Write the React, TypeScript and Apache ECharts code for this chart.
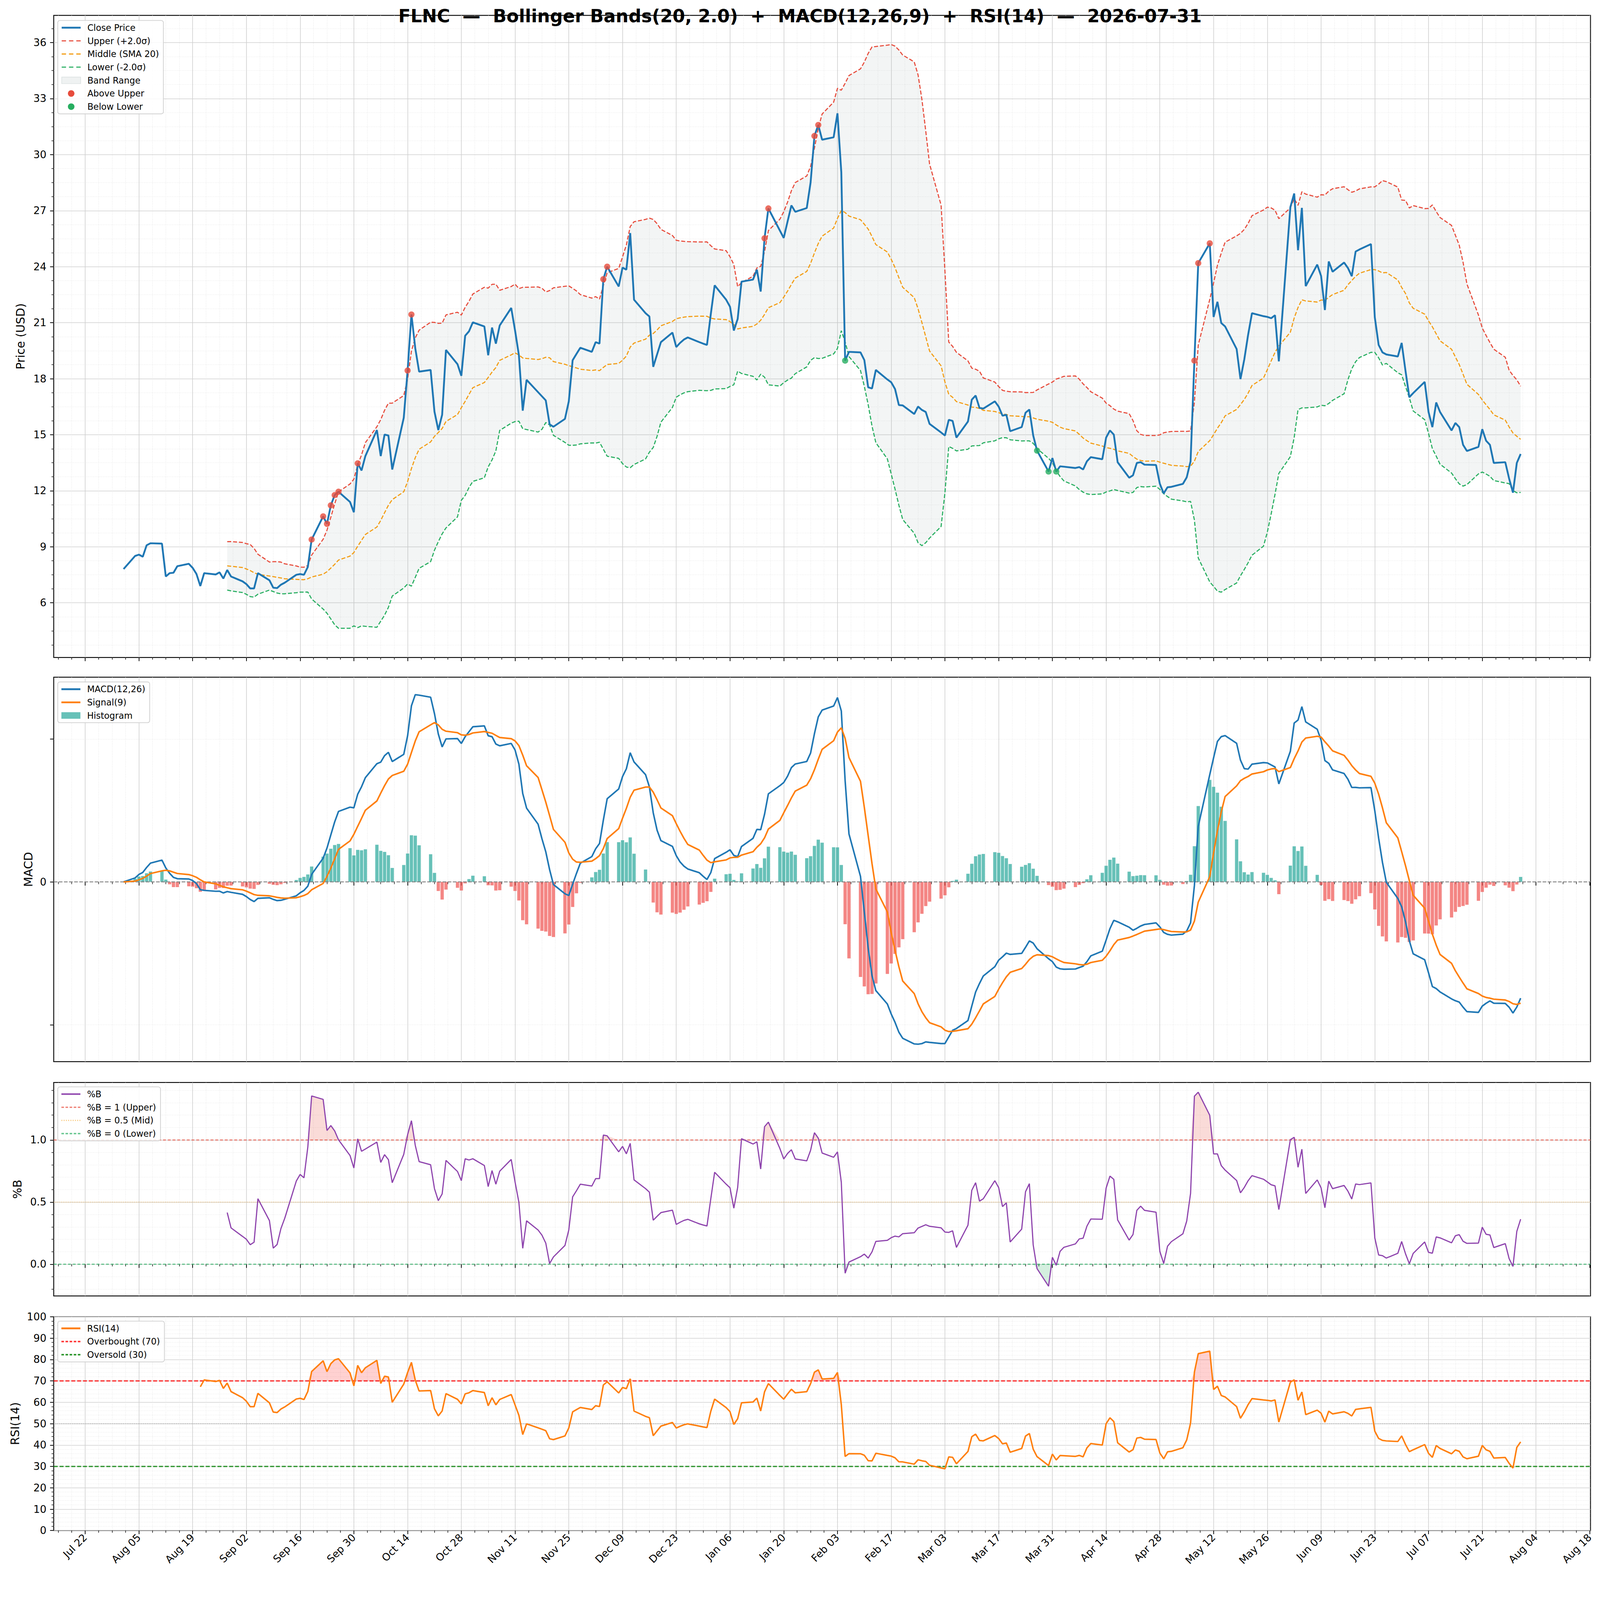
import React, { useEffect, useRef } from "react";
import * as echarts from "echarts";

// ---------------- data ----------------
const TITLE = "FLNC  —  Bollinger Bands(20, 2.0)  +  MACD(12,26,9)  +  RSI(14)  —  2026-07-31";
const FIRST_SESSION = "2025-08-01";
const LAST_SESSION = "2026-07-31";

const closeAug2025 = [7.81, 8.51, 8.58, 8.47, 9.08, 9.19, 9.17, 7.41, 7.59, 7.61, 7.96, 8.09, 7.87, 7.54, 6.9, 7.59, 7.52, 7.63, 7.3, 7.76, 7.41];
const closeSep2025 = [7.15, 7.0, 6.77, 6.77, 7.59, 7.21, 6.81, 6.79, 6.97, 7.08, 7.5, 7.54, 7.5, 7.92, 9.39, 10.63, 10.23, 11.22, 11.77, 11.95, 11.4, 10.85];
const closeOct2025 = [13.47, 13.09, 13.86, 15.25, 13.86, 15.01, 14.96, 13.14, 15.91, 18.44, 21.44, 19.63, 18.38, 18.47, 16.24, 15.25, 16.07, 19.54, 18.78, 18.16, 20.3, 20.54, 21.02];
const closeNov2025 = [20.8, 19.26, 20.74, 19.88, 20.85, 21.79, 20.58, 19.26, 16.29, 17.94, 17.28, 17.06, 16.84, 15.56, 15.43, 15.85, 16.79, 18.99, 19.33, 19.66];
const closeDec2025 = [19.44, 19.96, 19.88, 23.33, 24.0, 22.94, 23.95, 23.84, 25.8, 22.23, 21.51, 21.33, 18.64, 19.3, 19.96, 20.47, 19.7, 19.92, 20.1, 20.21, 19.96, 19.88, 19.81];
const closeJan2026 = [21.46, 23.0, 22.23, 21.86, 20.58, 21.2, 23.2, 23.31, 23.84, 22.67, 25.52, 27.12, 25.93, 25.54, 26.42, 27.28, 26.94, 27.14, 28.51, 31.0, 31.59, 30.8];
const closeFeb2026 = [30.93, 32.21, 29.06, 18.97, 19.44, 19.41, 19.0, 17.54, 17.48, 18.47, 17.96, 17.81, 17.45, 16.59, 16.57, 16.11, 16.51, 16.33, 16.22, 15.58];
const closeMar2026 = [15.12, 14.96, 15.8, 15.74, 14.85, 15.71, 16.88, 17.1, 16.44, 16.4, 16.79, 16.51, 16.02, 16.07, 15.19, 15.41, 16.18, 16.35, 14.96, 14.15, 13.03, 13.75];
const closeApr2026 = [13.03, 13.31, 13.29, 13.22, 13.27, 13.14, 13.58, 13.8, 13.69, 14.85, 15.23, 15.01, 13.53, 12.7, 12.83, 13.49, 13.53, 13.4, 13.38, 12.37, 11.86, 12.19];
const closeMay2026 = [12.21, 12.37, 12.72, 13.58, 18.97, 24.19, 25.25, 21.31, 22.12, 20.98, 20.8, 19.59, 17.98, 19.04, 20.36, 21.51, 21.35, 21.31, 21.24, 21.4, 18.93];
const closeJun2026 = [27.19, 27.92, 24.88, 27.15, 22.96, 24.11, 23.51, 21.68, 24.28, 23.73, 24.22, 23.93, 23.49, 24.81, 24.92, 25.21, 21.29, 19.81, 19.41, 19.3, 19.19, 19.92];
const closeJul2026 = [18.42, 17.01, 17.23, 17.83, 16.22, 15.41, 16.73, 16.22, 15.23, 15.63, 15.41, 14.46, 14.13, 14.35, 15.3, 14.68, 14.46, 13.49, 13.53, 12.65, 11.9, 13.49, 13.97];

const aboveUpperDates = [
  "2025-09-19", "2025-09-22", "2025-09-23", "2025-09-24", "2025-09-25", "2025-09-26",
  "2025-10-01", "2025-10-14", "2025-10-15", "2025-12-04", "2025-12-05",
  "2026-01-15", "2026-01-16", "2026-01-28", "2026-01-29",
  "2026-05-07", "2026-05-08", "2026-05-11",
];
const belowLowerDates = ["2026-02-05", "2026-03-27", "2026-03-30", "2026-04-01"];

const xTickDates = [
  "2025-07-22", "2025-08-05", "2025-08-19", "2025-09-02", "2025-09-16", "2025-09-30",
  "2025-10-14", "2025-10-28", "2025-11-11", "2025-11-25", "2025-12-09", "2025-12-23",
  "2026-01-06", "2026-01-20", "2026-02-03", "2026-02-17", "2026-03-03", "2026-03-17",
  "2026-03-31", "2026-04-14", "2026-04-28", "2026-05-12", "2026-05-26", "2026-06-09",
  "2026-06-23", "2026-07-07", "2026-07-21", "2026-08-04", "2026-08-18",
];
const priceTicks = [6, 9, 12, 15, 18, 21, 24, 27, 30, 33, 36];
const pctBTicks = [0, 0.5, 1.0];
const rsiTicks = [0, 10, 20, 30, 40, 50, 60, 70, 80, 90, 100];
const macdLabelTicks = [0];

// indicator parameters (from the title)
const BB_N = 20;
const BB_K = 2;
const RSI_N = 14;

// ---------------- helpers ----------------
const DAY = 86400000;
const MONTHS = ["Jan", "Feb", "Mar", "Apr", "May", "Jun", "Jul", "Aug", "Sep", "Oct", "Nov", "Dec"];
const FONT = "DejaVu Sans";
const REF_W = 4378;
const REF_H = 4322;

function utc(s: string): number {
  const p = s.split("-").map(Number);
  return Date.UTC(p[0], p[1] - 1, p[2]);
}
function fmtTick(v: number): string {
  const d = new Date(Math.round(v / DAY) * DAY);
  return MONTHS[d.getUTCMonth()] + " " + String(d.getUTCDate()).padStart(2, "0");
}
function weekdays(a: string, b: string): number[] {
  const out: number[] = [];
  for (let t = utc(a); t <= utc(b); t += DAY) {
    const wd = new Date(t).getUTCDay();
    if (wd !== 0 && wd !== 6) out.push(t);
  }
  return out;
}
function ema(arr: number[], span: number): number[] {
  const a = 2 / (span + 1);
  const out = [arr[0]];
  for (let i = 1; i < arr.length; i++) out.push(a * arr[i] + (1 - a) * out[i - 1]);
  return out;
}
function stepValues(lo: number, hi: number, step: number, skipEvery: number): number[] {
  const out: number[] = [];
  const k0 = Math.ceil(lo / step - 1e-9);
  const k1 = Math.floor(hi / step + 1e-9);
  for (let k = k0; k <= k1; k++) {
    if (skipEvery && k % skipEvery === 0) continue;
    out.push(+(k * step).toFixed(6));
  }
  return out;
}
function lineIcon(thick: number) {
  return `path://M0 0H52V${thick}H0Z`;
}
function dashIcon(dash: number, gap: number, thick: number) {
  let d = "";
  for (let x = 0; x < 52; x += dash + gap) {
    const e = Math.min(x + dash, 52);
    d += `M${x} 0H${e}V${thick}H${x}Z`;
  }
  return "path://" + d;
}

function buildOption(S: number) {
  const p = (v: number) => v * S;
  const pd = (a: number[]) => a.map(p);

  const closes: number[] = ([] as number[]).concat(
    closeAug2025, closeSep2025, closeOct2025, closeNov2025, closeDec2025, closeJan2026,
    closeFeb2026, closeMar2026, closeApr2026, closeMay2026, closeJun2026, closeJul2026
  );
  const days = weekdays(FIRST_SESSION, LAST_SESSION).slice(0, closes.length);
  const n = days.length;
  const span = days[n - 1] - days[0];
  const xMin = days[0] - 0.05 * span;
  const xMax = days[n - 1] + 0.05 * span;

  // Bollinger
  const mid: number[] = new Array(n).fill(NaN);
  const up: number[] = new Array(n).fill(NaN);
  const lo: number[] = new Array(n).fill(NaN);
  const pb: number[] = new Array(n).fill(NaN);
  for (let i = BB_N - 1; i < n; i++) {
    let s = 0;
    for (let j = i - BB_N + 1; j <= i; j++) s += closes[j];
    const m = s / BB_N;
    let v = 0;
    for (let j = i - BB_N + 1; j <= i; j++) v += (closes[j] - m) ** 2;
    const sd = Math.sqrt(v / (BB_N - 1));
    mid[i] = m;
    up[i] = m + BB_K * sd;
    lo[i] = m - BB_K * sd;
    pb[i] = (closes[i] - lo[i]) / (up[i] - lo[i]);
  }
  // MACD
  const e12 = ema(closes, 12);
  const e26 = ema(closes, 26);
  const macd = e12.map((v, i) => v - e26[i]);
  const sig = ema(macd, 9);
  const hist = macd.map((v, i) => v - sig[i]);
  // RSI (Wilder smoothing)
  const rsi: number[] = new Array(n).fill(NaN);
  let ag = 0, al = 0;
  for (let i = 1; i < n; i++) {
    const d = closes[i] - closes[i - 1];
    const g = Math.max(d, 0), l = Math.max(-d, 0);
    if (i === 1) { ag = g; al = l; } else {
      ag = ag * (1 - 1 / RSI_N) + g / RSI_N;
      al = al * (1 - 1 / RSI_N) + l / RSI_N;
    }
    if (i >= RSI_N) rsi[i] = al === 0 ? 100 : 100 - 100 / (1 + ag / al);
  }

  const pairs = (arr: number[], from: number) => {
    const out: number[][] = [];
    for (let i = from; i < n; i++) out.push([days[i], arr[i]]);
    return out;
  };
  const rows = (a: number[], b: number[], from: number) => {
    const out: number[][] = [];
    for (let i = from; i < n; i++) out.push([days[i], a[i], b[i]]);
    return out;
  };
  const bb0 = BB_N - 1;

  // extents (5% margins like the reference)
  const padExt = (vals: number[]) => {
    let a = Infinity, b = -Infinity;
    vals.forEach((v) => { if (isFinite(v)) { a = Math.min(a, v); b = Math.max(b, v); } });
    const r = b - a;
    return [a - 0.05 * r, b + 0.05 * r];
  };
  const [pMin, pMax] = padExt([...closes, ...up, ...lo]);
  const [mMin, mMax] = padExt([...macd, ...sig, ...hist, 0]);
  const [bMin, bMax] = padExt([...pb, 0, 1]);
  let macdPeak = -Infinity;
  [...macd, ...sig, ...hist].forEach((v) => (macdPeak = Math.max(macdPeak, v)));
  const macdTick = macdPeak / 1.31;

  const t0 = utc(xTickDates[0]);
  const xMajor = xTickDates.map(utc);
  const xMinor = stepValues((xMin - t0) / DAY, (xMax - t0) / DAY, 3.5, 4).map((d) => t0 + d * DAY);

  const grids = [
    { top: 42, height: 1757 },
    { top: 1853, height: 1052 },
    { top: 2962, height: 584 },
    { top: 3603, height: 585 },
  ].map((g) => ({
    left: p(147), right: p(26), top: p(g.top), height: p(g.height), show: true,
    borderColor: "#000", borderWidth: p(2.4), backgroundColor: "transparent", containLabel: false,
  }));

  const majorGrid = { color: "#d0d0d0", width: p(1.7) };
  const minorGrid = { color: "#dcdcdc", width: p(1.2), type: pd([1.5, 3]) };
  const tickFont = { fontSize: p(28), fontFamily: FONT, color: "#000" };

  const xAxes: any[] = [];
  for (let g = 0; g < 4; g++) {
    xAxes.push({
      type: "value", gridIndex: g, min: xMin, max: xMax, position: "bottom",
      axisLine: { show: false },
      axisTick: { show: true, customValues: xMajor, length: p(10), lineStyle: { color: "#000", width: p(2) } },
      axisLabel: g === 3
        ? { show: true, customValues: xMajor, formatter: (v: number) => fmtTick(v), rotate: 45, margin: p(14), ...tickFont }
        : { show: false },
      splitLine: { show: true, lineStyle: majorGrid },
      axisPointer: { show: false },
    });
    xAxes.push({
      type: "value", gridIndex: g, min: xMin, max: xMax, position: "bottom",
      axisLine: { show: false },
      axisTick: { show: true, customValues: xMinor, length: p(6), lineStyle: { color: "#000", width: p(1.5) } },
      axisLabel: { show: false },
      splitLine: { show: true, lineStyle: minorGrid },
      axisPointer: { show: false },
    });
  }

  const yPair = (g: number, min: number, max: number, major: number[], minor: number[], labels: number[],
    fmt: (v: number) => string, name: string, nameGap: number, majorStyle: any) => [
    {
      type: "value", gridIndex: g, min, max, position: "left",
      axisLine: { show: false },
      axisTick: { show: true, customValues: major, length: p(10), lineStyle: { color: "#000", width: p(2) } },
      axisLabel: { show: true, customValues: labels, formatter: fmt, margin: p(20), ...tickFont },
      splitLine: { show: true, lineStyle: majorStyle },
      name, nameLocation: "middle", nameGap: p(nameGap), nameRotate: 90,
      nameTextStyle: { fontSize: p(32), fontFamily: FONT, color: "#000" },
    },
    {
      type: "value", gridIndex: g, min, max, position: "left",
      axisLine: { show: false },
      axisTick: { show: minor.length > 0, customValues: minor.length ? minor : [0], length: p(6), lineStyle: { color: "#000", width: p(1.5) } },
      axisLabel: { show: false },
      splitLine: { show: minor.length > 0, lineStyle: minorGrid },
    },
  ];

  const pMajor = priceTicks.filter((v) => v >= pMin && v <= pMax);
  const yAxes = [
    ...yPair(0, pMin, pMax, pMajor, stepValues(pMin, pMax, 0.75, 4), pMajor, (v) => String(v), "Price (USD)", 75, majorGrid),
    ...yPair(1, mMin, mMax, [-macdTick, 0, macdTick], [], macdLabelTicks, () => "0", "MACD", 54, minorGrid),
    ...yPair(2, bMin, bMax, pctBTicks, stepValues(bMin, bMax, 0.1, 5), pctBTicks, (v) => v.toFixed(1), "%B", 83, majorGrid),
    ...yPair(3, 0, 100, rsiTicks, stepValues(0, 100, 2, 5), rsiTicks, (v) => String(v), "RSI(14)", 90, majorGrid),
  ];

  const line = (name: string, data: number[][], g: number, color: string, width: number, dash?: number[], extra?: any) => ({
    type: "line", name, data, xAxisIndex: 2 * g, yAxisIndex: 2 * g,
    symbol: "none", showSymbol: false, silent: true, clip: true,
    lineStyle: { color, width: p(width), type: dash ? pd(dash) : "solid" }, itemStyle: { color },
    z: 3, ...(extra || {}),
  });
  const flat = (v: number) => [[xMin, v], [xMax, v]];

  // filled region between two curves (one polygon through the axis scales)
  const fillBetween = (name: string, data: number[][], g: number, color: string) => ({
    type: "custom", name, data, xAxisIndex: 2 * g, yAxisIndex: 2 * g, silent: true, z: 1, clip: true,
    encode: { x: 0, y: [1, 2] },
    renderItem: (params: any, api: any) => {
      if (params.dataIndexInside !== 0) return null;
      const len = params.dataInsideLength;
      const a: number[][] = [];
      const b: number[][] = [];
      for (let j = 0; j < len; j++) {
        const x = api.value(0, j);
        a.push(api.coord([x, api.value(1, j)]));
        b.push(api.coord([x, api.value(2, j)]));
      }
      return { type: "polygon", shape: { points: a.concat(b.reverse()) }, style: { fill: color } };
    },
  });

  const idx = new Map<number, number>();
  days.forEach((t, i) => idx.set(t, i));
  const dots = (list: string[]) => list.map(utc).filter((t) => idx.has(t)).map((t) => [t, closes[idx.get(t)!]]);

  const ones = pb.map(() => 1);
  const zeros = pb.map(() => 0);
  const seventy = rsi.map(() => 70);
  const thirty = rsi.map(() => 30);

  const series: any[] = [
    // ---- price ----
    fillBetween("Band Range", rows(up, lo, bb0), 0, "rgba(149,165,166,0.11)"),
    line("Upper (+2.0σ)", pairs(up, bb0), 0, "#e74c3c", 3, [11, 5]),
    line("Middle (SMA 20)", pairs(mid, bb0), 0, "#f39c12", 3, [11, 5]),
    line("Lower (-2.0σ)", pairs(lo, bb0), 0, "#27ae60", 3, [11, 5]),
    line("Close Price", pairs(closes, 0), 0, "#1f77b4", 5, undefined, { z: 4 }),
    {
      type: "scatter", name: "Above Upper", data: dots(aboveUpperDates), xAxisIndex: 0, yAxisIndex: 0,
      symbol: "circle", symbolSize: p(17), itemStyle: { color: "#e74c3c" }, z: 6, silent: true,
    },
    {
      type: "scatter", name: "Below Lower", data: dots(belowLowerDates), xAxisIndex: 0, yAxisIndex: 0,
      symbol: "circle", symbolSize: p(17), itemStyle: { color: "#27ae60" }, z: 6, silent: true,
    },
    // ---- MACD ----
    {
      type: "bar", name: "Histogram", data: pairs(hist, 0), xAxisIndex: 2, yAxisIndex: 2, barWidth: p(9), silent: true,
      itemStyle: { color: (q: any) => (q.value[1] >= 0 ? "rgba(38,166,154,0.7)" : "rgba(239,83,80,0.7)") }, z: 2,
    },
    line("_macdZero", flat(0), 1, "#808080", 2.5, [10, 4], { z: 2 }),
    line("MACD(12,26)", pairs(macd, 0), 1, "#1f77b4", 4.2, undefined, { z: 4 }),
    line("Signal(9)", pairs(sig, 0), 1, "#ff7f0e", 4.2, undefined, { z: 4 }),
    // ---- %B ----
    fillBetween("_pbUpFill", rows(pb.map((v) => Math.max(v, 1)), ones, bb0), 2, "rgba(231,76,60,0.2)"),
    fillBetween("_pbDnFill", rows(zeros, pb.map((v) => Math.min(v, 0)), bb0), 2, "rgba(39,174,96,0.2)"),
    line("%B = 1 (Upper)", flat(1), 2, "rgba(231,76,60,0.7)", 3, [8, 5], { z: 2 }),
    line("%B = 0.5 (Mid)", flat(0.5), 2, "rgba(243,156,18,0.5)", 2.5, [2, 3], { z: 2 }),
    line("%B = 0 (Lower)", flat(0), 2, "rgba(39,174,96,0.7)", 3, [8, 5], { z: 2 }),
    line("%B", pairs(pb, bb0), 2, "#8e44ad", 3.2, undefined, { z: 4 }),
    // ---- RSI ----
    fillBetween("_rsiUpFill", rows(rsi.map((v) => Math.max(v, 70)), seventy, RSI_N), 3, "rgba(255,0,0,0.18)"),
    fillBetween("_rsiDnFill", rows(thirty, rsi.map((v) => Math.min(v, 30)), RSI_N), 3, "rgba(0,128,0,0.18)"),
    line("_rsi50", flat(50), 3, "rgba(128,128,128,0.75)", 2, [2, 3], { z: 2 }),
    line("Overbought (70)", flat(70), 3, "rgba(255,0,0,0.8)", 3.5, [11, 5], { z: 2 }),
    line("Oversold (30)", flat(30), 3, "rgba(0,128,0,0.8)", 3.5, [11, 5], { z: 2 }),
    line("RSI(14)", pairs(rsi, RSI_N), 3, "#ff7f0e", 4, undefined, { z: 4 }),
  ];

  const item = (name: string, icon: string, color: string, extra?: any) => ({
    name, icon, itemStyle: { color, borderWidth: 0, opacity: 1, ...(extra || {}) },
  });
  const legendBase = {
    orient: "vertical", left: p(158), align: "left", selectedMode: false,
    itemWidth: p(52), itemHeight: p(18), itemGap: p(12.5),
    padding: pd([8, 12, 8, 10]),
    backgroundColor: "rgba(255,255,255,0.85)", borderColor: "#d0d0d0", borderWidth: p(2), borderRadius: p(6),
    textStyle: { fontSize: p(24), fontFamily: FONT, color: "#000", padding: pd([0, 0, 0, 13]) },
  };
  const legend = [
    {
      ...legendBase, top: p(56),
      data: [
        item("Close Price", lineIcon(5), "#1f77b4"),
        item("Upper (+2.0σ)", dashIcon(12, 8, 3), "#e74c3c"),
        item("Middle (SMA 20)", dashIcon(12, 8, 3), "#f39c12"),
        item("Lower (-2.0σ)", dashIcon(12, 8, 3), "#27ae60"),
        item("Band Range", "rect", "rgba(149,165,166,0.15)", { borderColor: "rgba(149,165,166,0.3)", borderWidth: p(1.5) }),
        item("Above Upper", "circle", "#e74c3c"),
        item("Below Lower", "circle", "#27ae60"),
      ],
    },
    {
      ...legendBase, top: p(1866),
      data: [
        item("MACD(12,26)", lineIcon(5), "#1f77b4"),
        item("Signal(9)", lineIcon(5), "#ff7f0e"),
        item("Histogram", "rect", "rgba(38,166,154,0.7)"),
      ],
    },
    {
      ...legendBase, top: p(2974),
      data: [
        item("%B", lineIcon(4), "#8e44ad"),
        item("%B = 1 (Upper)", dashIcon(7, 4, 3.5), "rgba(231,76,60,0.7)"),
        item("%B = 0.5 (Mid)", dashIcon(2.5, 3.5, 3), "rgba(243,156,18,0.55)"),
        item("%B = 0 (Lower)", dashIcon(7, 4, 3.5), "rgba(39,174,96,0.7)"),
      ],
    },
    {
      ...legendBase, top: p(3615),
      data: [
        item("RSI(14)", lineIcon(5), "#ff7f0e"),
        item("Overbought (70)", dashIcon(7, 4, 4), "rgba(255,0,0,0.8)"),
        item("Oversold (30)", dashIcon(7, 4, 4), "rgba(0,128,0,0.8)"),
      ],
    },
  ];

  return {
    animation: false,
    backgroundColor: "#ffffff",
    title: {
      text: TITLE, left: "center", top: p(14),
      textStyle: { fontFamily: FONT, fontSize: p(49), fontWeight: "bold", color: "#000" },
    },
    grid: grids,
    xAxis: xAxes,
    yAxis: yAxes,
    legend,
    series,
  };
}

export default function App() {
  const ref = useRef<HTMLDivElement>(null);
  useEffect(() => {
    document.body.style.margin = "0";
    document.body.style.overflow = "hidden";
    const el = ref.current as HTMLDivElement;
    const vw = window.innerWidth || REF_W;
    const vh = window.innerHeight || REF_H;
    const S = Math.min(vw / REF_W, vh / REF_H);
    const W = Math.round(REF_W * S);
    const H = Math.round(REF_H * S);
    el.style.width = W + "px";
    el.style.height = H + "px";
    const chart = echarts.init(el, null, { renderer: "svg", width: W, height: H });
    chart.setOption(buildOption(S) as any);
    return () => chart.dispose();
  }, []);
  return <div ref={ref} style={{ width: "100vw", height: "100vh", background: "#fff" }} />;
}
